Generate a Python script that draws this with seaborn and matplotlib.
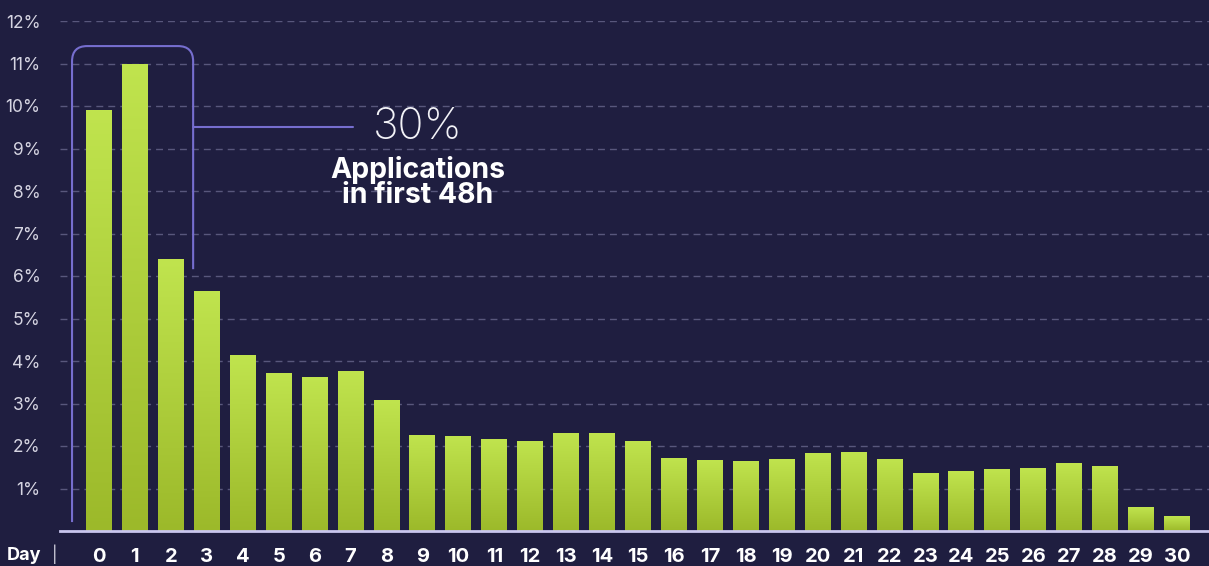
import numpy as np
import matplotlib
matplotlib.use("Agg")
import matplotlib.pyplot as plt
from matplotlib.path import Path
from matplotlib.patches import PathPatch
from matplotlib.colors import LinearSegmentedColormap
import seaborn as sns

# Share of applications received on each day after posting (%)
days = list(range(31))
share = [9.9, 11.0, 6.4, 5.65, 4.14, 3.72, 3.62, 3.76, 3.08, 2.26, 2.24,
         2.16, 2.12, 2.31, 2.31, 2.12, 1.72, 1.67, 1.65, 1.69, 1.84, 1.86,
         1.70, 1.36, 1.41, 1.46, 1.48, 1.60, 1.53, 0.56, 0.35]
y_ticks = list(range(1, 13))
y_labels = [f"{v}%" for v in y_ticks]
headline = "30%"
caption = "Applications\nin first 48h"
axis_name = "Day"

BG = "#1f1e40"
BRACKET = "#766ecf"
SANS = ["Inter", "DejaVu Sans"]

sns.set_style("dark", {"axes.facecolor": BG, "figure.facecolor": BG})
plt.rcParams["font.family"] = SANS

fig = plt.figure(figsize=(12.09, 5.66), dpi=100)
ax = fig.add_axes([60 / 1209, 35 / 566, 1149 / 1209, 510 / 566])
ax.set_facecolor(BG)

sns.barplot(x=days, y=share, width=0.72, color="#a8cc38", ax=ax,
            saturation=1, zorder=3)

# Vertical light-to-dark green gradient inside each bar
cmap = LinearSegmentedColormap.from_list("bar", ["#9cb92a", "#c0e44e"])
grad = np.linspace(0, 1, 256).reshape(-1, 1)
for p in ax.patches:
    x0, w, h = p.get_x(), p.get_width(), p.get_height()
    p.set_facecolor("none")
    p.set_edgecolor("none")
    im = ax.imshow(grad, extent=[x0, x0 + w, 0, h], origin="lower",
                   aspect="auto", cmap=cmap, zorder=3)
    im.set_clip_path(p)

ax.set_xlim(-1.085, 30.89)
ax.set_ylim(0, 12)

# Dashed horizontal grid
ax.set_yticks(y_ticks)
ax.set_yticklabels(y_labels, fontsize=12.5, color="#d6d5e2")
ax.yaxis.grid(True, linestyle=(0, (5, 3.6)), color="#58577c", linewidth=1.0)
ax.xaxis.grid(False)
ax.set_axisbelow(True)
ax.tick_params(axis="y", length=0, pad=14)

ax.set_xticks(days)
ax.set_xticklabels([str(d) for d in days], fontsize=14.5, fontweight="bold",
                   color="white")
ax.tick_params(axis="x", length=0, pad=12)

for s in ["top", "right", "left"]:
    ax.spines[s].set_visible(False)
ax.spines["bottom"].set_color("#c9c6ee")
ax.spines["bottom"].set_linewidth(2)
ax.spines["bottom"].set_zorder(4)

# Bracket around the first two days
xl, xr, yt, ylb, yrb = -0.75, 2.62, 11.41, 0.21, 6.16
rx, ry = 0.42, 0.36
verts = [(xl, ylb), (xl, yt - ry), (xl, yt), (xl + rx, yt),
         (xr - rx, yt), (xr, yt), (xr, yt - ry), (xr, yrb)]
codes = [Path.MOVETO, Path.LINETO, Path.CURVE3, Path.CURVE3,
         Path.LINETO, Path.CURVE3, Path.CURVE3, Path.LINETO]
ax.add_patch(PathPatch(Path(verts, codes), facecolor="none",
                       edgecolor=BRACKET, linewidth=1.5, zorder=5))
ax.plot([xr, 7.07], [9.5, 9.5], color=BRACKET, linewidth=1.5, zorder=5)

ax.text(8.88, 9.5, headline, ha="center", va="center", fontsize=31,
        fontweight="light", color="#f2f2f7", zorder=6)
ax.text(8.88, 8.2, caption, ha="center", va="center", fontsize=20.5,
        fontweight="bold", color="white", linespacing=0.95, zorder=6)

# Axis name at the start of the day labels
fig.text(24 / 1209, 1 - 555 / 566, axis_name, ha="center", va="center",
         fontsize=13, fontweight="bold", color="white")
fig.text(55 / 1209, 1 - 554 / 566, "|", ha="center", va="center",
         fontsize=12, color="#d4d3e0")

fig.savefig("out.png", dpi=100, facecolor=BG)
